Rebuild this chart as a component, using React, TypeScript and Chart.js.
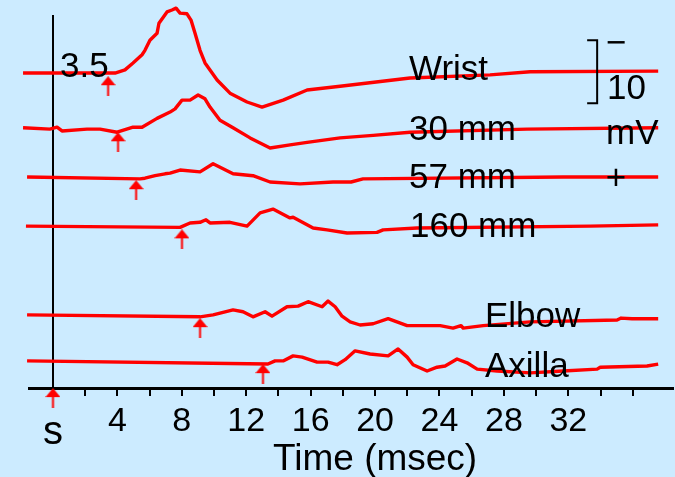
import { useEffect, useRef } from 'react';
import { Chart, registerables } from 'chart.js';

Chart.register(...registerables);

// ---- data (time in msec, deflection in mV relative to each trace's baseline) ----
const traceNames = ['Wrist', '30 mm', '57 mm', '160 mm', 'Elbow', 'Axilla'];
const baselineMv = [50.0, 41.1, 33.5, 25.7, 11.6, 4.3];
const onsetMs = [3.42, 4.04, 5.16, 8.01, 9.13, 13.04];
const stimulusMs = 0;
const scaleBarMv = 10;
const scaleBarTopMv = 55.2;
const scaleBarMs = 33.79;
const tickLabels = [4, 8, 12, 16, 20, 24, 28, 32];
const wristLatencyLabel = '3.5';

const wrist: [number, number][] = [
  [-1.86, 0], [3.85, 0], [4.47, 0.5], [4.97, 1.6], [5.53, 2.9], [5.71, 3.6], [6.02, 5.2],
  [6.46, 6.3], [6.58, 7.9], [7.08, 9.7], [7.39, 10.0], [7.64, 10.3], [7.89, 9.5], [8.32, 9.4],
  [8.57, 8.4], [8.82, 6.3], [9.13, 3.6], [9.44, 1.6], [10.19, -1.1], [10.99, -3.2], [12.05, -4.6],
  [12.98, -5.4], [14.29, -4.3], [15.78, -2.7], [17.83, -2.1], [22.17, -0.8], [27.14, -0.3],
  [29.63, 0.2], [37.58, 0.3],
];
const mm30: [number, number][] = [
  [-1.86, 3.2], [-1.86, 0.2], [-0.19, 0], [0.25, 0.3], [0.56, -0.3], [2.11, 0], [2.92, 0],
  [3.98, -0.5], [4.97, 0.3], [5.53, 0.3], [6.46, 1.7], [7.27, 2.7], [7.58, 3.2], [8.01, 4.6],
  [8.51, 4.6], [9.01, 5.4], [9.44, 4.8], [9.75, 3.5], [10.37, 1.4], [11.18, 0.2], [12.24, -1.4],
  [13.48, -3.0], [14.72, -2.5], [15.78, -2.1], [17.83, -1.4], [19.88, -1.0], [22.17, -0.5],
  [29.44, 0], [37.58, 0.2],
];
const mm57: [number, number][] = [
  [-1.61, 0], [5.4, -0.3], [5.71, -0.2], [6.34, 0.2], [6.96, 0.5], [7.27, 0.6], [7.89, 1.1],
  [9.13, 0.8], [9.94, 2.1], [11.18, 0.5], [12.42, 0.2], [13.48, -0.8], [15.34, -1.1],
  [17.39, -0.8], [18.51, -0.8], [19.25, -0.3], [31.68, 0], [37.58, 0],
];
const mm160: [number, number][] = [
  [-1.68, 0], [7.89, -0.2], [8.51, 0.5], [9.13, 0.6], [9.5, 1.0], [9.75, 0.5], [10.99, 0.6],
  [12.05, 0], [12.86, 2.1], [13.66, 2.7], [14.72, 1.3], [14.91, 1.4], [16.15, -0.3],
  [17.02, -0.6], [18.26, -1.1], [20.12, -1.0], [20.5, -0.6], [22.61, -0.3], [33.35, 0],
  [37.58, 0.2],
];
const elbow: [number, number][] = [
  [-1.61, 0], [9.13, -0.3], [9.94, 0], [11.18, 0.8], [11.8, 0.5], [12.42, -0.3], [13.17, 0.5],
  [13.6, -0.2], [14.53, 1.3], [15.22, 1.4], [15.84, 2.1], [16.71, 1.3], [17.08, 2.2],
  [17.52, 1.3], [17.95, -0.2], [18.45, -1.1], [19.07, -1.6], [19.88, -1.4], [20.81, -0.6],
  [21.99, -1.7], [24.04, -1.7], [24.84, -2.1], [25.34, -1.7], [25.47, -2.1], [26.71, -1.7],
  [29.63, -1.1], [35.03, -0.8], [35.28, -0.5], [35.96, -0.6], [37.58, -0.6],
];
const axilla: [number, number][] = [
  [-1.61, 0], [13.35, -0.5], [13.79, 0], [14.29, 0], [14.91, 0.8], [15.47, 0.6], [16.4, -0.2],
  [17.08, -0.2], [17.64, -0.6], [18.14, 0.2], [18.76, 1.6], [19.69, 1.1], [20.81, 0.8],
  [21.43, 1.9], [21.99, 0.6], [22.36, -0.6], [23.23, -1.6], [23.85, -1.0], [24.35, -0.8],
  [25.09, 0.3], [25.71, -0.3], [26.34, -1.3], [27.58, -1.6], [29.63, -1.9], [31.68, -1.6],
  [33.79, -1.3], [33.98, -1.0], [36.89, -0.8], [37.58, -0.5],
];
const traces = [wrist, mm30, mm57, mm160, elbow, axilla];

const BG = '#CCEBFF';
const RED = '#FF0000';
const FONT = '"Liberation Sans", Arial, sans-serif';
const ARROW_GAP_MV = 2.1;

function makeArrow(): HTMLCanvasElement {
  const c = document.createElement('canvas');
  c.width = 15;
  c.height = 20;
  const g = c.getContext('2d')!;
  g.fillStyle = RED;
  g.beginPath();
  g.moveTo(7.5, 0);
  g.lineTo(15, 9);
  g.lineTo(0, 9);
  g.closePath();
  g.fill();
  g.fillRect(6.5, 8, 2, 12);
  return c;
}

export default function App() {
  const ref = useRef<HTMLCanvasElement | null>(null);

  useEffect(() => {
    document.body.style.margin = '0';
    document.body.style.background = BG;
    const canvas = ref.current;
    if (!canvas) return;
    const arrow = makeArrow();

    const lineSets = traces.map((pts, i) => ({
      type: 'line' as const,
      label: traceNames[i],
      data: pts.map(([t, d]) => ({ x: t, y: baselineMv[i] + d })),
      borderColor: RED,
      borderWidth: 3.4,
      pointRadius: 0,
      tension: 0,
      borderJoinStyle: 'round' as const,
      borderCapStyle: 'butt' as const,
      clip: false as any,
    }));

    const arrowPts = onsetMs.map((t, i) => ({ x: t, y: baselineMv[i] - ARROW_GAP_MV }));
    arrowPts.push({ x: stimulusMs, y: -1.6 });

    const arrowSet = {
      type: 'scatter' as const,
      label: 'onsets',
      data: arrowPts,
      pointStyle: arrow as any,
      pointRadius: 20,
      pointBorderWidth: 0,
      showLine: false,
      clip: false as any,
    };

    const bgPlugin = {
      id: 'bg',
      beforeDraw(chart: any) {
        const c = chart.ctx;
        c.save();
        c.fillStyle = BG;
        c.fillRect(0, 0, chart.width, chart.height);
        c.restore();
      },
    };

    const textPlugin = {
      id: 'texts',
      afterDatasetsDraw(chart: any) {
        const c = chart.ctx;
        const xs = chart.scales.x;
        const ys = chart.scales.y;
        c.save();
        c.fillStyle = '#000';
        c.textBaseline = 'alphabetic';
        c.textAlign = 'left';
        c.font = `35px ${FONT}`;
        c.fillText(wristLatencyLabel, 60, 77);
        const labelPos: [number, number][] = [
          [409, 80], [409, 140], [409, 188], [410, 237], [485, 327], [485, 377],
        ];
        traceNames.forEach((n, i) => c.fillText(n, labelPos[i][0], labelPos[i][1]));

        // scale bar bracket (10 mV)
        const bx = xs.getPixelForValue(scaleBarMs);
        const by1 = ys.getPixelForValue(scaleBarTopMv);
        const by2 = ys.getPixelForValue(scaleBarTopMv - scaleBarMv);
        c.strokeStyle = '#000';
        c.lineWidth = 2;
        c.beginPath();
        c.moveTo(bx - 10, by1);
        c.lineTo(bx, by1);
        c.lineTo(bx, by2);
        c.lineTo(bx - 10, by2);
        c.stroke();

        c.fillText(String(scaleBarMv), 607, 99);
        c.fillText('mV', 606, 144);
        c.textAlign = 'center';
        c.fillText('\u2212', 616, 54);
        c.fillText('+', 616, 189);

        // stimulus label and axis title
        c.font = `40px ${FONT}`;
        c.fillText('s', xs.getPixelForValue(stimulusMs), 444);
        c.font = `37px ${FONT}`;
        c.textAlign = 'left';
        c.fillText('Time (msec)', 273, 470);
        c.restore();
      },
    };

    const chart = new Chart(canvas, {
      data: { datasets: [...lineSets, arrowSet] as any },
      options: {
        animation: false,
        responsive: false,
        devicePixelRatio: 1,
        layout: { autoPadding: false, padding: { left: 29, right: 2, top: 16, bottom: 0 } },
        plugins: { legend: { display: false }, tooltip: { enabled: false } },
        font: { family: FONT } as any,
        scales: {
          x: {
            type: 'linear',
            min: -1.49,
            max: 38.5,
            afterFit: (s: any) => {
              s.height = 89;
              s.paddingLeft = 0;
              s.paddingRight = 0;
            },
            border: { display: true, color: '#000', width: 3 },
            grid: {
              drawOnChartArea: false,
              drawTicks: true,
              tickLength: 8,
              lineWidth: 2,
              color: (ctx: any) => {
                const v = ctx.tick ? ctx.tick.value : NaN;
                return v > 0 && v <= 36 && Math.abs(v - Math.round(v / 2) * 2) < 1e-6
                  ? '#000'
                  : 'rgba(0,0,0,0)';
              },
            },
            ticks: {
              stepSize: 2,
              maxTicksLimit: 100,
              autoSkip: false,
              maxRotation: 0,
              minRotation: 0,
              align: 'inner',
              padding: 2,
              color: '#000',
              font: { family: FONT, size: 34, lineHeight: 1.38 },
              callback: (v: any) => (tickLabels.includes(Number(v)) ? String(v) : ''),
            },
          },
          y: {
            type: 'linear',
            min: 0,
            max: 59.05,
            position: { x: 0 } as any,
            ticks: { display: false },
            grid: { display: false, drawTicks: false },
            border: { display: true, color: '#000', width: 2 },
            afterFit: (s: any) => {
              s.paddingTop = 0;
              s.paddingBottom = 0;
              s.paddingLeft = 0;
              s.paddingRight = 0;
            },
          },
        },
      } as any,
      plugins: [bgPlugin, textPlugin],
    });

    return () => chart.destroy();
  }, []);

  return (
    <div style={{ position: 'absolute', left: 0, top: 0, width: 675, height: 477 }}>
      <canvas ref={ref} width={675} height={477} style={{ display: 'block' }} />
    </div>
  );
}
